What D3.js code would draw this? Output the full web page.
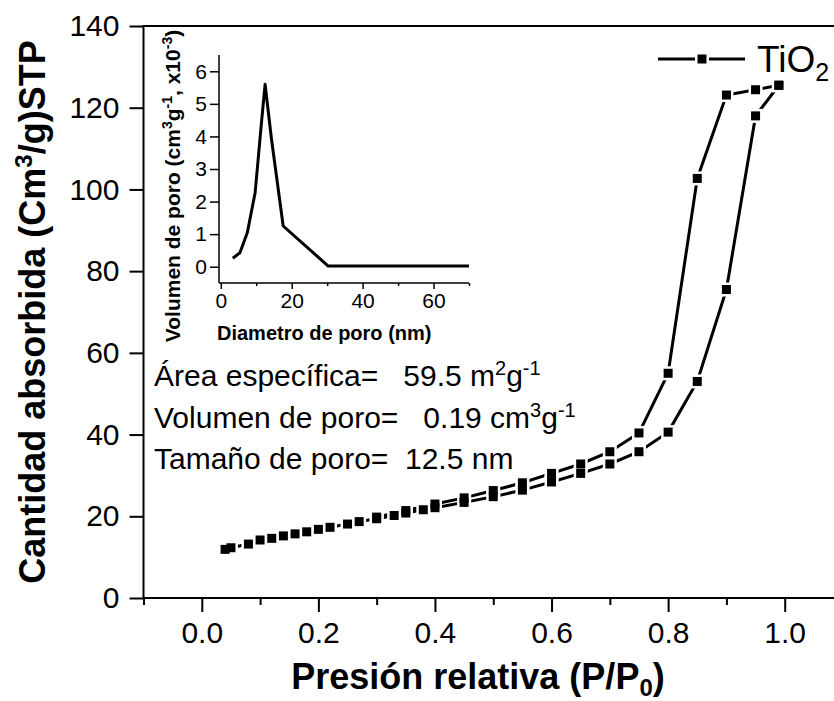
<!DOCTYPE html>
<html><head><meta charset="utf-8">
<script src="https://cdn.jsdelivr.net/npm/d3@7"></script>
<style>
body{margin:0;background:#fff}
svg{display:block}
text{font-family:"Liberation Sans",Arial,sans-serif;fill:#000;white-space:pre}
</style>
</head><body>
<svg id="c" width="834" height="701"></svg>
<script>
// ---- data ----
const adsX = [0.04,0.05,0.08,0.10,0.12,0.14,0.16,0.18,0.20,0.22,0.25,0.27,0.30,0.33,0.35,0.38,0.40,0.45,0.50,0.55,0.60,0.65,0.70,0.75,0.80,0.85,0.90,0.95,0.99];
const adsY = [11.9,12.3,13.2,14.2,14.6,15.2,15.7,16.2,16.8,17.3,18.1,18.7,19.4,20.2,20.8,21.6,22.1,23.4,24.8,26.4,28.4,30.5,32.8,35.8,40.6,53.0,75.5,118.0,125.5];
const desX = [0.99,0.95,0.90,0.85,0.80,0.75,0.70,0.65,0.60,0.55,0.50,0.45,0.40,0.35,0.30];
const desY = [125.5,124.4,123.1,102.7,55.0,40.4,35.8,32.8,30.5,28.2,26.3,24.5,23.0,21.4,19.8];
const xTicks = [0.0,0.2,0.4,0.6,0.8,1.0];
const xMinor = [-0.1,0.1,0.3,0.5,0.7,0.9,1.1];
const yTicks = [0,20,40,60,80,100,120,140];
const psdX = [3.4,5.4,7.5,9.7,11.3,12.5,14.3,17.6,30.3,70];
const psdY = [0.26,0.43,1.05,2.28,4.22,5.6,3.92,1.25,0.02,0.02];
const insetXTicks = [0,20,40,60];
const insetXMinor = [10,30,50,70];
const insetYTicks = [0,1,2,3,4,5,6];
const notes = [
  {t:"Área específica=   59.5 m", s:"2", t2:"g", s2:"-1"},
  {t:"Volumen de poro=   0.19 cm", s:"3", t2:"g", s2:"-1"},
  {t:"Tamaño de poro=  12.5 nm"}
];

const svg = d3.select("#c");
const x = d3.scaleLinear().domain([-0.1,1.1]).range([143.5,843]);
const y = d3.scaleLinear().domain([0,140]).range([598,26]);

// frame (top line; right side falls outside picture)
svg.append("rect").attr("x",x(-0.1)).attr("y",y(140)).attr("width",x(1.1)-x(-0.1)).attr("height",y(0)-y(140))
  .attr("fill","none").attr("stroke","#000").attr("stroke-width",2);

// x axis
const gx = svg.append("g").attr("transform",`translate(0,${y(0)})`);
gx.call(d3.axisBottom(x).tickValues(xTicks).tickSize(14).tickPadding(10).tickFormat(d3.format(".1f")));
const gxm = svg.append("g").attr("transform",`translate(0,${y(0)})`);
gxm.call(d3.axisBottom(x).tickValues(xMinor).tickSize(7).tickFormat(""));
// y axis
const gy = svg.append("g").attr("transform",`translate(${x(-0.1)},0)`);
gy.call(d3.axisLeft(y).tickValues(yTicks).tickSize(14).tickPadding(10));
[gx,gxm,gy].forEach(g=>{
  g.select(".domain").remove();
  g.selectAll("line").attr("stroke","#000").attr("stroke-width",2);
  g.selectAll("text").attr("font-size",30).attr("font-family","Liberation Sans, Arial, sans-serif").attr("fill","#000");
});

// axis titles
const xt = svg.append("text").attr("x",478).attr("y",689).attr("text-anchor","middle")
  .attr("font-size",36).attr("font-weight","bold");
xt.append("tspan").text("Presión relativa (P/P");
xt.append("tspan").attr("font-size",24).attr("dy",7).text("0");
xt.append("tspan").attr("dy",-7).text(")");

const yt = svg.append("text").attr("transform","translate(45,312) rotate(-90)").attr("text-anchor","middle")
  .attr("font-size",36).attr("font-weight","bold");
yt.append("tspan").text("Cantidad absorbida (Cm");
yt.append("tspan").attr("font-size",24).attr("dy",-13).text("3");
yt.append("tspan").attr("dy",13).text("/g)STP");

// series lines
const line = d3.line().x(d=>x(d[0])).y(d=>y(d[1]));
const ads = adsX.map((v,i)=>[v,adsY[i]]);
const des = desX.map((v,i)=>[v,desY[i]]);
[ads,des].forEach(s=>{
  svg.append("path").datum(s).attr("d",line).attr("fill","none").attr("stroke","#000").attr("stroke-width",3);
});
// markers with white gap
[ads,des].forEach(s=>{
  svg.append("g").selectAll("rect").data(s).join("rect")
    .attr("x",d=>x(d[0])-7).attr("y",d=>y(d[1])-7).attr("width",14).attr("height",14).attr("fill","#fff");
});
[ads,des].forEach(s=>{
  svg.append("g").selectAll("rect").data(s).join("rect")
    .attr("x",d=>x(d[0])-4.5).attr("y",d=>y(d[1])-4.5).attr("width",9).attr("height",9).attr("fill","#000");
});

// legend
svg.append("line").attr("x1",658).attr("x2",745).attr("y1",59).attr("y2",59).attr("stroke","#000").attr("stroke-width",3);
svg.append("rect").attr("x",702-7).attr("y",59-7).attr("width",14).attr("height",14).attr("fill","#fff");
svg.append("rect").attr("x",702-4.5).attr("y",59-4.5).attr("width",9).attr("height",9).attr("fill","#000");
const lt = svg.append("text").attr("x",757).attr("y",72).attr("font-size",37);
lt.append("tspan").text("TiO");
lt.append("tspan").attr("font-size",25).attr("dy",9).text("2");

// annotations
notes.forEach((n,i)=>{
  const t = svg.append("text").attr("x",154).attr("y",386+i*41.5).attr("font-size",30);
  t.append("tspan").text(n.t);
  if(n.s){
    t.append("tspan").attr("font-size",20).attr("dy",-11).text(n.s);
    t.append("tspan").attr("dy",11).text(n.t2);
    t.append("tspan").attr("font-size",20).attr("dy",-11).text(n.s2);
  }
});

// ---- inset ----
const ix = d3.scaleLinear().domain([-0.5,70]).range([219,469]);
const iy = d3.scaleLinear().domain([-0.5,6.5]).range([283,55]);
const ig = svg.append("g");
ig.append("line").attr("x1",ix(-0.5)).attr("x2",ix(-0.5)).attr("y1",iy(6.5)).attr("y2",iy(-0.5)).attr("stroke","#000").attr("stroke-width",1.5);
ig.append("line").attr("x1",ix(-0.5)).attr("x2",ix(70)).attr("y1",iy(-0.5)).attr("y2",iy(-0.5)).attr("stroke","#000").attr("stroke-width",1.5);
const igx = ig.append("g").attr("transform",`translate(0,${iy(-0.5)})`)
  .call(d3.axisBottom(ix).tickValues(insetXTicks).tickSize(6).tickPadding(4).tickFormat(d3.format("d")));
const igxm = ig.append("g").attr("transform",`translate(0,${iy(-0.5)})`)
  .call(d3.axisBottom(ix).tickValues(insetXMinor).tickSize(3).tickFormat(""));
const igy = ig.append("g").attr("transform",`translate(${ix(-0.5)},0)`)
  .call(d3.axisLeft(iy).tickValues(insetYTicks).tickSize(9).tickPadding(3).tickFormat(d3.format("d")));
[igx,igxm,igy].forEach(g=>{
  g.select(".domain").remove();
  g.selectAll("line").attr("stroke","#000").attr("stroke-width",1.5);
  g.selectAll("text").attr("font-size",21).attr("font-family","Liberation Sans, Arial, sans-serif").attr("fill","#000");
});
const psd = psdX.map((v,i)=>[v,psdY[i]]);
ig.append("path").datum(psd).attr("d",d3.line().x(d=>ix(d[0])).y(d=>iy(d[1])))
  .attr("fill","none").attr("stroke","#000").attr("stroke-width",3).attr("stroke-linejoin","round");
ig.append("text").attr("x",217).attr("y",340).attr("font-size",20).attr("font-weight","bold").text("Diametro de poro (nm)");
const iyt = ig.append("text").attr("transform","translate(180,186) rotate(-90)").attr("text-anchor","middle")
  .attr("font-size",21).attr("font-weight","bold");
iyt.append("tspan").text("Volumen de poro (cm");
iyt.append("tspan").attr("font-size",14).attr("dy",-8).text("3");
iyt.append("tspan").attr("dy",8).text("g");
iyt.append("tspan").attr("font-size",14).attr("dy",-8).text("-1");
iyt.append("tspan").attr("dy",8).text(", x10");
iyt.append("tspan").attr("font-size",14).attr("dy",-8).text("-3");
iyt.append("tspan").attr("dy",8).text(")");
</script>
</body></html>
